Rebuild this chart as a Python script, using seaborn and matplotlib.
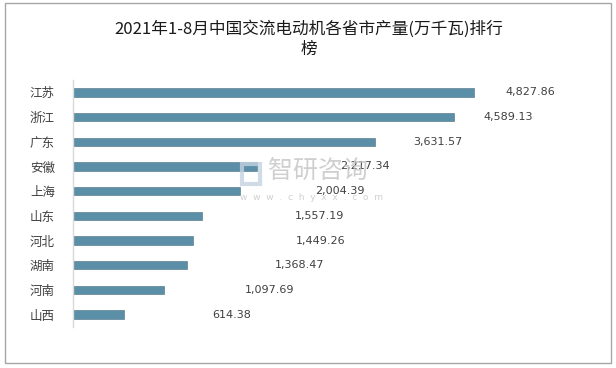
import matplotlib
matplotlib.use("Agg")
import matplotlib.pyplot as plt
import seaborn as sns
import pandas as pd
from matplotlib.patches import Rectangle

provinces = ["江苏", "浙江", "广东", "安徽", "上海", "山东", "河北", "湖南", "河南", "山西"]
output = [4827.86, 4589.13, 3631.57, 2217.34, 2004.39, 1557.19, 1449.26, 1368.47, 1097.69, 614.38]
value_labels = ["4,827.86", "4,589.13", "3,631.57", "2,217.34", "2,004.39",
                "1,557.19", "1,449.26", "1,368.47", "1,097.69", "614.38"]
title = "2021年1-8月中国交流电动机各省市产量(万千瓦)排行\n榜"

# label offsets (data units, annotation placement only)
label_dx = [680, 650, 760, 1300, 1210, 1410, 1530, 1360, 1270, 1300]

sns.set_theme(style="white")
plt.rcParams["font.family"] = ["Noto Sans CJK SC", "DejaVu Sans"]

df = pd.DataFrame({"省份": provinces, "产量": output})

fig = plt.figure(figsize=(6.16, 3.68), dpi=100)
fig.patch.set_facecolor("white")
fig.patches.append(Rectangle((5 / 616, 1 - 363 / 368), 606 / 616, 360 / 368,
                             transform=fig.transFigure, fill=False,
                             edgecolor="#a6a6a6", linewidth=1.0))

ax = fig.add_axes([73 / 616, 1 - 327 / 368, (571.6 - 73) / 616, 247 / 368])
sns.barplot(data=df, y="省份", x="产量", orient="h", color="#5b8fa7",
            width=0.34, saturation=1, ax=ax, edgecolor="#4a6f82", linewidth=0.4)
ax.set_xlim(0, 6000)
ax.set_ylim(9.5, -0.5)
ax.set_xlabel("")
ax.set_ylabel("")
ax.set_xticks([])
for s in ["top", "right", "bottom"]:
    ax.spines[s].set_visible(False)
ax.spines["left"].set_color("#d9d9d9")
ax.spines["left"].set_linewidth(1.0)
ax.tick_params(axis="y", length=0, pad=13, labelsize=9, labelcolor="#404040")

# watermark (drawn beneath the value labels)
fig.text(268 / 616, 1 - 171 / 368, "智研咨询", fontsize=18, color="#c4c4c4",
         alpha=0.8, va="center", ha="left", zorder=0)
fig.text(240 / 616, 1 - 197 / 368, "w  w  w  .  c  h  y  x  x  .  c  o  m", fontsize=6.5,
         color="#c4c4c4", alpha=0.8, va="center", ha="left", family="DejaVu Sans", zorder=0)
fig.patches.append(Rectangle((242 / 616, 1 - 184 / 368), 18 / 616, 20 / 368,
                             transform=fig.transFigure, fill=False,
                             edgecolor="#c5d3e3", linewidth=3, alpha=0.8))

for i, (v, lab, dx) in enumerate(zip(output, value_labels, label_dx)):
    ax.text(v + dx, i, lab, ha="center", va="center", fontsize=8,
            color="#404040", family="DejaVu Sans")

fig.text(309 / 616, 1 - 39 / 368, title, ha="center", va="center",
         fontsize=12, color="#1a1a1a", linespacing=1.25)

fig.savefig("out.png", dpi=100)
